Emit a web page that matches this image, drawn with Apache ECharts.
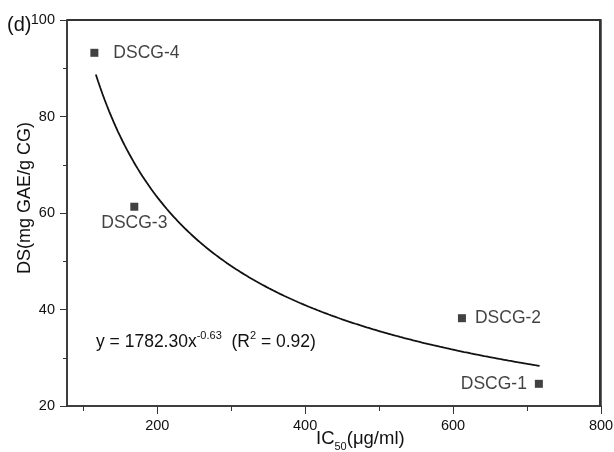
<!DOCTYPE html>
<html>
<head>
<meta charset="utf-8">
<style>
  html, body { margin: 0; padding: 0; background: #fff; }
  #wrap { position: relative; width: 614px; height: 452px; }
  #chart { position: absolute; left: 0; top: 0; width: 614px; height: 452px; }
  #frame { position: absolute; left: 67px; top: 19px; width: 534px; height: 387px; box-sizing: border-box; border-top: 2px solid #333; border-right: 2px solid #333; pointer-events: none; z-index: 5; }
</style>
<script src="https://cdn.jsdelivr.net/npm/echarts@6/dist/echarts.min.js"></script>
</head>
<body>
<div id="wrap">
  <div id="chart"></div>
  <div id="frame"></div>
</div>
<script>
// Samples: IC50 (µg/ml) against DS (mg GAE/g CG)
const samples = ['DSCG-1', 'DSCG-2', 'DSCG-3', 'DSCG-4'];
const ic50 = [716, 612, 169, 115];
const ds = [24.6, 38.2, 61.3, 93.2];

// Power-law fit y = a * x^b
const fitA = 1782.30;
const fitB = -0.63;
const fitR2 = 0.92;
const fitRange = [117, 717];

// Axis ticks
const xRange = [78, 800];
const xMajorTicks = [200, 400, 600, 800];
const xMinorTicks = [100, 300, 500, 700];
const yRange = [20, 100];
const yStep = 20;

const FONT = '"Liberation Sans", Arial, Helvetica, sans-serif';
const INK = '#111';
const AXIS = '#333';

// label side for each sample
const labelSide = {
  'DSCG-1': { position: 'left', distance: 8 },
  'DSCG-2': { position: 'right', distance: 9 },
  'DSCG-3': { position: 'bottom', distance: 3 },
  'DSCG-4': { position: 'right', distance: 15 }
};

const points = samples.map((name, i) => ({
  name: name,
  value: [ic50[i], ds[i]],
  label: Object.assign({ show: true, formatter: name }, labelSide[name])
}));

// curve sampled along the fitted equation
const curve = [];
for (let x = fitRange[0]; x <= fitRange[1]; x += 3) {
  curve.push([x, fitA * Math.pow(x, fitB)]);
}
curve.push([fitRange[1], fitA * Math.pow(fitRange[1], fitB)]);

const chart = echarts.init(document.getElementById('chart'), null, { renderer: 'canvas' });

chart.setOption({
  animation: false,
  backgroundColor: '#fff',
  textStyle: { fontFamily: FONT },
  grid: {
    left: 67, right: 13, top: 20, bottom: 46, containLabel: false, outerBoundsMode: 'none',
    show: true, backgroundColor: 'rgba(0,0,0,0)', borderColor: AXIS, borderWidth: 1.5
  },
  xAxis: [
    {
      type: 'value', position: 'bottom', min: xRange[0], max: xRange[1],
      axisLine: { show: true, onZero: false, lineStyle: { color: AXIS, width: 1.5 } },
      axisTick: { show: true, inside: false, length: 8, customValues: xMajorTicks, lineStyle: { color: AXIS, width: 1 } },
      axisLabel: { show: true, customValues: xMajorTicks, margin: 12, fontSize: 14.5, color: INK, fontFamily: FONT },
      splitLine: { show: false }
    },
    {
      type: 'value', position: 'bottom', min: xRange[0], max: xRange[1],
      axisLine: { show: false, onZero: false },
      axisTick: { show: true, inside: false, length: 5, customValues: xMinorTicks, lineStyle: { color: AXIS, width: 1 } },
      axisLabel: { show: false },
      splitLine: { show: false }
    }
  ],
  yAxis: [
    {
      type: 'value', position: 'left', min: yRange[0], max: yRange[1], interval: yStep,
      axisLine: { show: true, onZero: false, lineStyle: { color: AXIS, width: 1.5 } },
      axisTick: { show: true, inside: false, length: 7, lineStyle: { color: AXIS, width: 1 } },
      minorTick: { show: true, splitNumber: 2, length: 4, lineStyle: { color: AXIS, width: 1 } },
      axisLabel: { show: true, margin: 12, fontSize: 14.5, color: INK, fontFamily: FONT },
      splitLine: { show: false },
      minorSplitLine: { show: false }
    }
  ],
  series: [
    {
      type: 'line',
      xAxisIndex: 0, yAxisIndex: 0,
      data: curve,
      showSymbol: false,
      symbol: 'none',
      lineStyle: { color: '#111', width: 1.8 },
      silent: true,
      z: 2
    },
    {
      type: 'scatter',
      xAxisIndex: 0, yAxisIndex: 0,
      data: points,
      symbol: 'rect',
      symbolSize: 8,
      itemStyle: { color: '#111' },
      label: { fontSize: 17.5, color: INK, fontFamily: FONT },
      z: 3
    }
  ],
  graphic: [
    {
      type: 'text', left: 7, top: 15,
      style: { text: '(d)', fontSize: 20, fill: INK, fontFamily: FONT }
    },
    {
      type: 'text', x: 25, y: 198, rotation: Math.PI / 2,
      style: {
        text: 'DS(mg GAE/g CG)', fontSize: 18, fill: INK, fontFamily: FONT,
        align: 'center', verticalAlign: 'middle'
      }
    },
    {
      type: 'text', left: 316, top: 429,
      style: {
        text: '{m|IC}{s|50}{m|(μg/ml)}',
        fill: INK, fontFamily: FONT,
        rich: {
          m: { fontSize: 18.5, lineHeight: 20, fontFamily: FONT, fill: INK, verticalAlign: 'top' },
          s: { fontSize: 11, lineHeight: 11, padding: [12, 0, 0, 0], fontFamily: FONT, fill: INK, verticalAlign: 'top' }
        }
      }
    },
    {
      type: 'text', left: 96, top: 330,
      style: {
        text: '{m|y = ' + fitA.toFixed(2) + 'x}{p|' + fitB.toFixed(2) + '}{m|  (R}{p|2}{m| = ' + fitR2.toFixed(2) + ')}',
        fill: INK, fontFamily: FONT,
        rich: {
          m: { fontSize: 17.5, lineHeight: 24, fontFamily: FONT, fill: INK, verticalAlign: 'middle' },
          p: { fontSize: 11, lineHeight: 11, fontFamily: FONT, fill: INK, verticalAlign: 'top' }
        }
      }
    }
  ]
});
</script>
</body>
</html>
